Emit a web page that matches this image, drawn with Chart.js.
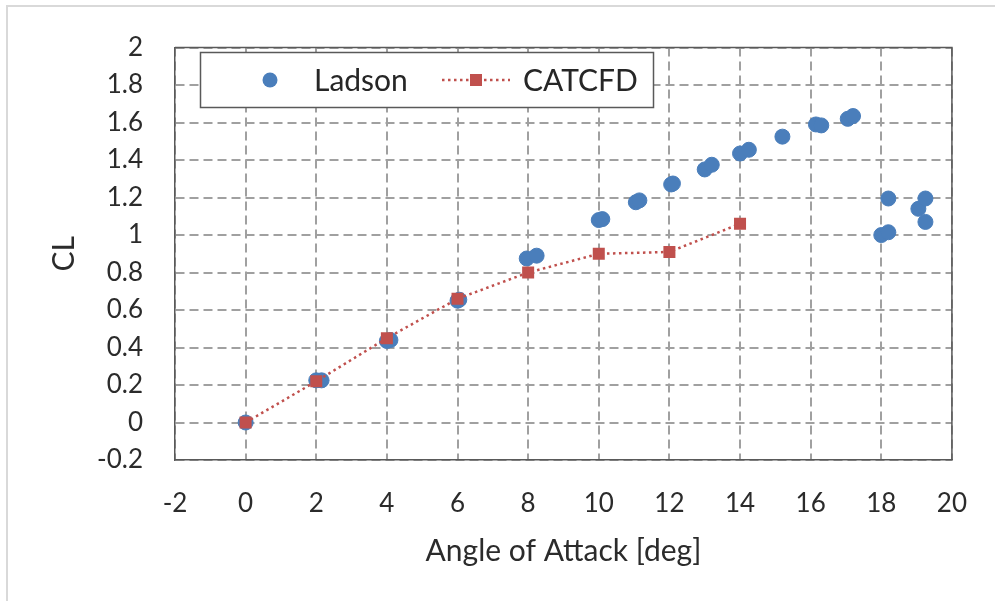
<!DOCTYPE html>
<html>
<head>
<meta charset="utf-8">
<script src="https://cdn.jsdelivr.net/npm/chart.js@4.4.0/dist/chart.umd.min.js"></script>
<style>
    html, body { margin: 0; padding: 0; background: #fff; }
    #graph { width: 995px; height: 601px; position: relative; }
</style>
</head>
<body>
<div id="graph"><canvas id="cl"></canvas></div>
<script>
// mesures Ladson (angle, CL)
const ladsonAlpha = [0, 2.0, 2.15, 4.0, 4.1, 6.0, 6.05, 7.96, 8.24, 10.0, 10.1, 11.05, 11.15, 12.05, 12.1,
    13.0, 13.2, 14.0, 14.25, 15.2, 16.15, 16.3, 17.05, 17.2, 18.0, 18.2, 18.2, 19.05, 19.25, 19.25];
const ladsonCl = [0, 0.225, 0.225, 0.435, 0.44, 0.65, 0.655, 0.875, 0.89, 1.08, 1.085, 1.175, 1.185, 1.27, 1.275,
    1.35, 1.375, 1.435, 1.455, 1.525, 1.59, 1.585, 1.62, 1.635, 1.0, 1.015, 1.195, 1.14, 1.195, 1.07];

// calcul CATCFD
const catcfdAlpha = [0, 2, 4, 6, 8, 10, 12, 14];
const catcfdCl = [0, 0.22, 0.45, 0.66, 0.80, 0.90, 0.91, 1.06];

// graduations
const xTickValues = [-2, 0, 2, 4, 6, 8, 10, 12, 14, 16, 18, 20];
const xTickLabels = ["-2", "0", "2", "4", "6", "8", "10", "12", "14", "16", "18", "20"];
const yTickValues = [-0.2, 0, 0.2, 0.4, 0.6, 0.8, 1, 1.2, 1.4, 1.6, 1.8, 2];
const yTickLabels = ["-0.2", "0", "0.2", "0.4", "0.6", "0.8", "1", "1.2", "1.4", "1.6", "1.8", "2"];

const police = "Lato";
const bleu = "#4a7ebb";
const rouge = "#c0504d";

function points(xs, ys) {
    return xs.map(function (x, i) {
        return { x: x, y: ys[i] };
    });
}

// fond, cadre et legende
const cadre = {
    id: "cadre",
    beforeDraw(chart) {
        const ctx = chart.ctx;
        ctx.save();
        ctx.fillStyle = "#fff";
        ctx.fillRect(0, 0, chart.width, chart.height);
        ctx.strokeStyle = "#d9d9d9";
        ctx.lineWidth = 2;
        ctx.beginPath();
        ctx.moveTo(7, chart.height);
        ctx.lineTo(7, 6);
        ctx.lineTo(chart.width, 6);
        ctx.stroke();
        ctx.restore();
    },
    afterDraw(chart) {
        const ctx = chart.ctx;
        const a = chart.chartArea;
        ctx.save();
        ctx.strokeStyle = "#595959";
        ctx.lineWidth = 1.5;
        ctx.beginPath();
        ctx.moveTo(a.left, a.top);
        ctx.lineTo(a.right, a.top);
        ctx.lineTo(a.right, a.bottom);
        ctx.stroke();

        // legende
        ctx.fillStyle = "#fff";
        ctx.fillRect(200, 52, 453, 55);
        ctx.strokeStyle = "#595959";
        ctx.strokeRect(200.5, 52.5, 453, 55);
        const ly = 80;
        ctx.fillStyle = bleu;
        ctx.beginPath();
        ctx.arc(270, ly, 7.5, 0, Math.PI * 2);
        ctx.fill();
        ctx.strokeStyle = rouge;
        ctx.lineWidth = 2.5;
        ctx.setLineDash([2.5, 3.5]);
        ctx.beginPath();
        ctx.moveTo(442, ly);
        ctx.lineTo(510, ly);
        ctx.stroke();
        ctx.setLineDash([]);
        ctx.fillStyle = rouge;
        ctx.fillRect(470, ly - 6, 12, 12);
        ctx.fillStyle = "#262626";
        ctx.font = "30px " + police;
        ctx.textBaseline = "middle";
        ctx.textAlign = "left";
        ctx.fillText(chart.data.datasets[1].label, 314, ly + 1);
        ctx.fillText(chart.data.datasets[0].label, 523, ly + 1);
        ctx.restore();
    }
};

const ctx = document.getElementById("cl").getContext("2d");

new Chart(ctx, {
    type: "scatter",
    data: {
        datasets: [
            {
                label: "CATCFD",
                data: points(catcfdAlpha, catcfdCl),
                showLine: true,
                borderColor: rouge,
                borderWidth: 2.5,
                borderDash: [2.5, 3.5],
                pointStyle: "rect",
                pointRadius: 8.5,
                pointBackgroundColor: rouge,
                pointBorderWidth: 0,
                order: 0
            },
            {
                label: "Ladson",
                data: points(ladsonAlpha, ladsonCl),
                pointRadius: 7.5,
                pointBackgroundColor: bleu,
                pointBorderColor: bleu,
                pointBorderWidth: 1,
                order: 1
            }
        ]
    },
    options: {
        responsive: true,
        maintainAspectRatio: false,
        animation: false,
        layout: {
            padding: { left: 20, top: 41, right: 36, bottom: 20 }
        },
        scales: {
            x: {
                type: "linear",
                min: -2,
                max: 20,
                afterBuildTicks: function (s) {
                    s.ticks = xTickValues.map(function (v) { return { value: v }; });
                },
                afterFit: function (s) {
                    s.height = 121;
                },
                grid: {
                    color: "#a0a0a0",
                    lineWidth: 2,
                    drawTicks: false
                },
                border: {
                    display: true,
                    color: "#595959",
                    width: 1.5,
                    dash: [9, 5]
                },
                ticks: {
                    padding: 28,
                    color: "#2b2b2b",
                    font: { family: police, size: 26 },
                    callback: function (v, i) { return xTickLabels[i]; }
                },
                title: {
                    display: true,
                    text: "Angle of Attack [deg]",
                    color: "#2b2b2b",
                    font: { family: police, size: 30 },
                    padding: { top: 0, bottom: 12 }
                }
            },
            y: {
                type: "linear",
                min: -0.2,
                max: 2,
                afterBuildTicks: function (s) {
                    s.ticks = yTickValues.map(function (v) { return { value: v }; });
                },
                afterFit: function (s) {
                    s.width = 155;
                },
                grid: {
                    color: "#a0a0a0",
                    lineWidth: 2,
                    drawTicks: false
                },
                border: {
                    display: true,
                    color: "#595959",
                    width: 1.5,
                    dash: [9, 5]
                },
                ticks: {
                    padding: 32,
                    color: "#2b2b2b",
                    font: { family: police, size: 26 },
                    callback: function (v, i) { return yTickLabels[i]; }
                },
                title: {
                    display: true,
                    text: "CL",
                    color: "#2b2b2b",
                    font: { family: police, size: 30 },
                    padding: { top: 26, bottom: 0 }
                }
            }
        },
        plugins: {
            legend: { display: false },
            tooltip: { enabled: false }
        }
    },
    plugins: [cadre]
});
</script>
</body>
</html>
